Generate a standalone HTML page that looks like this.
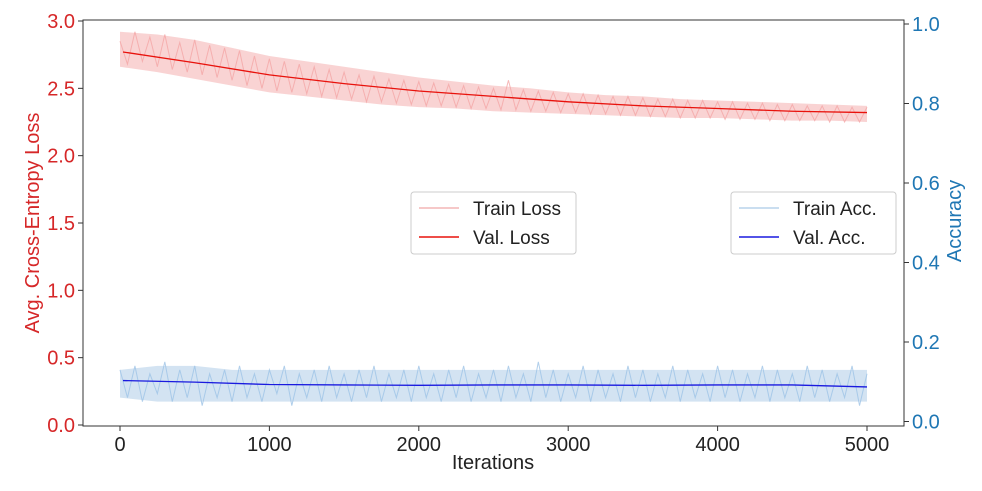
<!DOCTYPE html>
<html><head><meta charset="utf-8"><style>
body{margin:0;background:#fff;}
text{font-family:"Liberation Sans","DejaVu Sans",sans-serif;}
</style></head><body>
<svg id="chart" width="982" height="486" xmlns="http://www.w3.org/2000/svg"></svg>
<script>
const valLossIters=[20,500,1000,1500,2000,2500,3000,3500,4000,4500,5000];
const valLoss=[2.77,2.69,2.60,2.535,2.48,2.44,2.40,2.37,2.35,2.33,2.32];
const valAccIters=[20,500,1000,1500,2000,2500,3000,3500,4000,4500,5000];
const valAcc=[0.103,0.099,0.093,0.092,0.091,0.092,0.092,0.091,0.092,0.092,0.087];
const bandIters=[0,250,500,750,1000,1250,1500,1750,2000,2250,2500,2750,3000,3250,3500,3750,4000,4250,4500,4750,5000];
const trainLossHi=[2.92,2.90,2.86,2.80,2.74,2.70,2.66,2.62,2.58,2.55,2.52,2.50,2.47,2.45,2.44,2.42,2.41,2.40,2.39,2.38,2.37];
const trainLossLo=[2.66,2.62,2.57,2.52,2.47,2.44,2.41,2.38,2.36,2.35,2.33,2.32,2.31,2.30,2.29,2.28,2.28,2.27,2.26,2.26,2.25];
const trainAccHi=[0.13,0.14,0.14,0.13,0.13,0.13,0.13,0.13,0.13,0.13,0.13,0.13,0.13,0.13,0.13,0.13,0.13,0.13,0.13,0.13,0.13];
const trainAccLo=[0.06,0.05,0.05,0.05,0.05,0.05,0.05,0.05,0.05,0.05,0.05,0.05,0.05,0.05,0.05,0.05,0.05,0.05,0.05,0.05,0.05];
const trainLoss=[2.85,2.68,2.92,2.70,2.88,2.66,2.90,2.64,2.84,2.62,2.86,2.60,2.82,2.58,2.80,2.56,2.78,2.52,2.74,2.50,2.72,2.48,2.70,2.47,2.68,2.46,2.66,2.44,2.64,2.43,2.62,2.42,2.60,2.40,2.59,2.40,2.57,2.39,2.56,2.38,2.55,2.37,2.54,2.37,2.53,2.36,2.52,2.35,2.51,2.35,2.50,2.34,2.56,2.34,2.49,2.33,2.48,2.33,2.47,2.32,2.46,2.32,2.46,2.31,2.45,2.31,2.44,2.30,2.44,2.30,2.43,2.29,2.42,2.29,2.42,2.28,2.41,2.28,2.41,2.28,2.40,2.27,2.40,2.27,2.39,2.27,2.39,2.26,2.38,2.26,2.38,2.26,2.37,2.26,2.37,2.25,2.37,2.25,2.36,2.25,2.36];
const trainAcc=[0.13,0.06,0.14,0.05,0.12,0.07,0.15,0.05,0.13,0.06,0.14,0.04,0.12,0.06,0.13,0.05,0.14,0.06,0.12,0.05,0.13,0.07,0.14,0.04,0.12,0.06,0.13,0.05,0.14,0.06,0.12,0.05,0.13,0.06,0.14,0.05,0.12,0.06,0.13,0.05,0.14,0.06,0.12,0.05,0.13,0.06,0.14,0.05,0.12,0.06,0.13,0.05,0.14,0.06,0.12,0.05,0.15,0.06,0.13,0.05,0.12,0.06,0.14,0.05,0.13,0.06,0.12,0.05,0.14,0.06,0.13,0.05,0.12,0.06,0.14,0.05,0.13,0.06,0.12,0.05,0.14,0.06,0.13,0.05,0.12,0.06,0.14,0.05,0.13,0.06,0.12,0.05,0.14,0.06,0.13,0.05,0.12,0.06,0.14,0.04,0.12];
const xTicks=[0,1000,2000,3000,4000,5000];
const yLeftTicks=[0,0.5,1.0,1.5,2.0,2.5,3.0];
const yRightTicks=[0,0.2,0.4,0.6,0.8,1.0];

const svg=document.getElementById('chart');
const NS='http://www.w3.org/2000/svg';
const L=83,R=904,T=20,B=426;
const x=v=>120+v*(867-120)/5000;
const yl=v=>425-v*(425-21)/3;
const yr=v=>421.5-v*397.5;
function mk(tag,attrs,name,parent){const e=document.createElementNS(NS,tag);for(const k in attrs)e.setAttribute(k,attrs[k]);


(parent||svg).appendChild(e);return e;}
function txt(s,attrs,name){const e=mk('text',attrs,name);e.textContent=s;return e;}
function line(xs,ys,col,w,name,op){return mk('polyline',{points:xs.map((v,i)=>v+','+ys[i]).join(' '),fill:'none',stroke:col,'stroke-width':w,'stroke-opacity':op||1},name);}
function band(hi,lo,fy,col,name){const pts=bandIters.map((t,i)=>x(t)+','+fy(hi[i])).concat(bandIters.map((t,i)=>x(t)+','+fy(lo[i])).reverse());
return mk('polygon',{points:pts.join(' '),fill:col,'fill-opacity':0.75},name);}
band(trainLossHi,trainLossLo,yl,'#f7c4c4','train-loss-band');
band(trainAccHi,trainAccLo,yr,'#c4daee','train-acc-band');
const stepL=5000/(trainLoss.length-1), stepA=5000/(trainAcc.length-1);
line(trainLoss.map((v,i)=>x(i*stepL)),trainLoss.map(yl),'#f4a6a6',1,'train-loss-line',0.8);
line(trainAcc.map((v,i)=>x(i*stepA)),trainAcc.map(yr),'#9ec3e6',1,'train-acc-line',0.8);
line(valLossIters.map(x),valLoss.map(yl),'#e8120c',1.3,'val-loss-line');
line(valAccIters.map(x),valAcc.map(yr),'#1a1adf',1.3,'val-acc-line');
mk('rect',{x:L,y:T,width:R-L,height:B-T,fill:'none',stroke:'#333','stroke-width':1},'plot-frame');
xTicks.forEach(t=>{mk('line',{x1:x(t),x2:x(t),y1:B,y2:B+5,stroke:'#333'},'x-tick');
txt(t,{x:x(t),y:B+25,'text-anchor':'middle','font-size':20,fill:'#222'},'x-tick-label');});
yLeftTicks.forEach(t=>{mk('line',{x1:L-5,x2:L,y1:yl(t),y2:yl(t),stroke:'#333'},'y-left-tick');
txt(t.toFixed(1),{x:L-8,y:yl(t)+7,'text-anchor':'end','font-size':20,fill:'#d62728'},'y-left-tick-label');});
yRightTicks.forEach(t=>{mk('line',{x1:R,x2:R+5,y1:yr(t),y2:yr(t),stroke:'#333'},'y-right-tick');
txt(t.toFixed(1),{x:R+8,y:yr(t)+7,'font-size':20,fill:'#1f77b4'},'y-right-tick-label');});
txt('Iterations',{x:493,y:469,'text-anchor':'middle','font-size':20,fill:'#222'},'x-axis-title');
txt('Avg. Cross-Entropy Loss',{x:39,y:223,'text-anchor':'middle','font-size':20,fill:'#d62728',transform:'rotate(-90 39 223)'},'y-left-axis-title');
txt('Accuracy',{x:961,y:221,'text-anchor':'middle','font-size':20,fill:'#1f77b4',transform:'rotate(-90 961 221)'},'y-right-axis-title');
function legend(x0,items,name){const g=mk('g',{},name);
mk('rect',{x:x0,y:192,width:165,height:62,rx:3,fill:'#fff','fill-opacity':0.85,stroke:'#ccc'},'legend-box',g);
items.forEach((it,i)=>{const yy=208+i*29;
mk('line',{x1:x0+8,x2:x0+48,y1:yy,y2:yy,stroke:it[1],'stroke-width':1.5},'legend-swatch',g);
const t=mk('text',{x:x0+62,y:yy+7,'font-size':19,fill:'#222'},'legend-entry',g);t.textContent=it[0];});}
legend(411,[['Train Loss','#f4b6b6'],['Val. Loss','#e8120c']],'loss-legend');
legend(731,[['Train Acc.','#b8d4ec'],['Val. Acc.','#1a1adf']],'accuracy-legend');
</script>
</body></html>
